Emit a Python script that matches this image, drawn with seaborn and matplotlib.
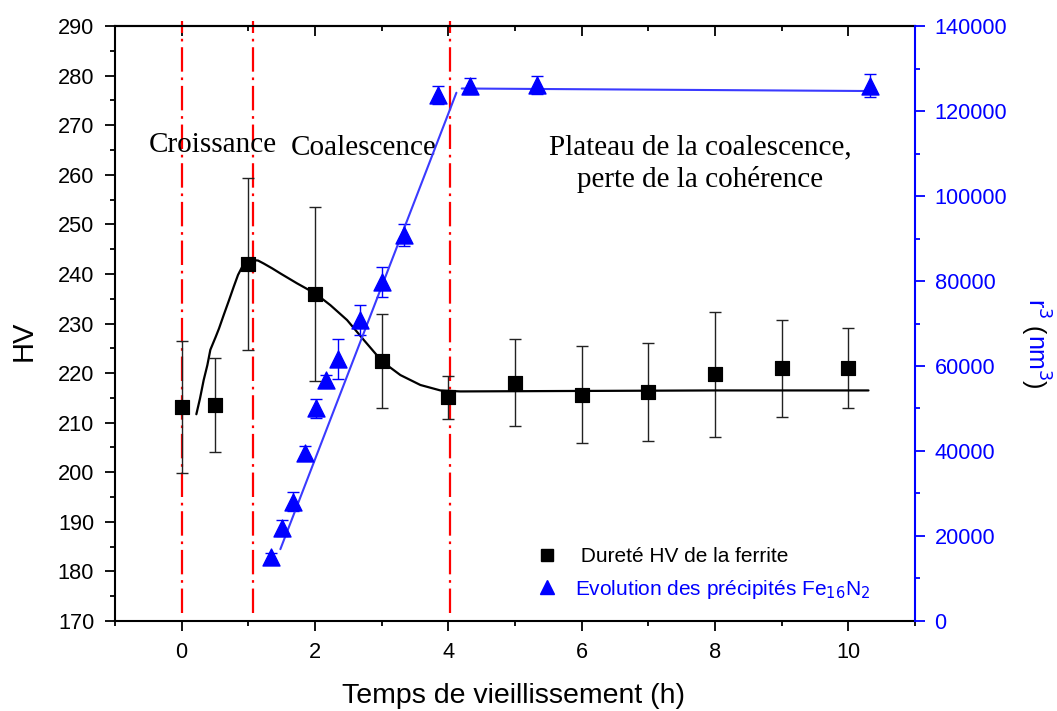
import matplotlib
matplotlib.use("Agg")
import matplotlib.pyplot as plt
from matplotlib.lines import Line2D
from matplotlib.ticker import MultipleLocator
import pandas as pd
import seaborn as sns

# hardness of the ferrite (left axis)
hours_hv = [0, 0.5, 1, 2, 3, 4, 5, 6, 7, 8, 9, 10]
hv = [213.2, 213.5, 242.0, 235.9, 222.4, 215.1, 218.1, 215.6, 216.2, 219.8, 221.0, 221.0]
hv_err = [13.3, 9.5, 17.3, 17.5, 9.5, 4.4, 8.7, 9.8, 9.8, 12.6, 9.8, 8.0]

# fitted hardness curve
fit_hours = [0.22, 0.275, 0.33, 0.385, 0.43, 0.51, 0.56, 0.63, 0.71, 0.78, 0.845, 0.91,
             0.975, 1.06, 1.145, 1.23, 1.36, 1.48, 1.73, 2.01, 2.23, 2.48, 2.73, 3.01,
             3.28, 3.58, 3.88, 4.18, 6.0, 8.0, 10.3]
fit_hv = [211.7, 214.9, 218.6, 221.6, 224.7, 227.3, 229.0, 231.7, 234.7, 237.4, 239.8, 241.5,
          242.3, 242.8, 242.7, 242.1, 241.1, 240.1, 238.1, 236.0, 233.7, 230.7, 226.7, 222.3,
          219.6, 217.6, 216.5, 216.3, 216.4, 216.5, 216.5]

# Fe16N2 precipitates r^3 (right axis)
hours_r3 = [1.34, 1.51, 1.67, 1.85, 2.01, 2.17, 2.34, 2.68, 3.01, 3.33, 3.84, 4.33, 5.33, 10.33]
r3 = [15100, 21900, 28100, 39500, 50000, 56700, 61600, 70800, 79800, 90800,
      123800, 125900, 126100, 125900]
r3_err = [1000, 1900, 2200, 1600, 2200, 1300, 4700, 3500, 3600, 2500, 2100, 1800, 2100, 2700]

# linear fits of r^3: growth then plateau
rise_hours = [1.48, 4.12]
rise_r3 = [16900, 124300]
plateau_hours = [4.2, 10.35]
plateau_r3 = [125300, 124700]

# stage boundaries
stage_hours = [0.0, 1.07, 4.03]

sns.set_style("ticks")
plt.rcParams["font.family"] = ["Liberation Sans", "DejaVu Sans"]
plt.rcParams.update({"text.color": "black", "axes.labelcolor": "black",
                     "xtick.color": "black", "ytick.color": "black"})

df_hv = pd.DataFrame({"t": hours_hv, "hv": hv})
df_fit = pd.DataFrame({"t": fit_hours, "hv": fit_hv})
df_r3 = pd.DataFrame({"t": hours_r3, "r3": r3})

fig = plt.figure(figsize=(10.57, 7.11), dpi=100)
ax = fig.add_axes([0.1088, 0.1266, 0.757, 0.8368])
ax2 = ax.twinx()

BLUE = "#0000ff"

# red dash-dot stage separators
for t in stage_hours:
    ax.plot([t, t], [171.6, 291.0], color="red", lw=1.6,
            linestyle=(0, (11, 2.6, 1.2, 2.6)), clip_on=False, zorder=1)

# hardness
ax.errorbar(hours_hv, hv, yerr=hv_err, fmt="none", ecolor="#222222",
            elinewidth=1.0, capsize=4.5, capthick=1.0, zorder=2)
sns.lineplot(data=df_fit, x="t", y="hv", ax=ax, color="black", lw=1.6,
             sort=False, zorder=3)
sns.scatterplot(data=df_hv, x="t", y="hv", ax=ax, marker="s", s=110,
                color="black", edgecolor="black", zorder=4)

# precipitates
ax2.errorbar(hours_r3, r3, yerr=r3_err, fmt="none", ecolor=BLUE,
             elinewidth=1.0, capsize=4.5, capthick=1.0, zorder=2)
sns.lineplot(x=rise_hours, y=rise_r3, ax=ax2, color="#3a3aff", lw=1.5, zorder=3)
sns.lineplot(x=plateau_hours, y=plateau_r3, ax=ax2, color="#3a3aff", lw=1.5, zorder=3)
sns.scatterplot(data=df_r3, x="t", y="r3", ax=ax2, marker="^", s=150,
                color=BLUE, edgecolor=BLUE, zorder=4)

# axes limits and ticks
ax.set_xlim(-1, 11)
ax.set_ylim(170, 290)
ax2.set_ylim(0, 140000)
ax.xaxis.set_major_locator(MultipleLocator(2))
ax.xaxis.set_minor_locator(MultipleLocator(1))
ax.yaxis.set_major_locator(MultipleLocator(10))
ax.yaxis.set_minor_locator(MultipleLocator(5))
ax2.yaxis.set_major_locator(MultipleLocator(20000))
ax2.yaxis.set_minor_locator(MultipleLocator(10000))

ax.tick_params(axis="both", which="major", direction="out", length=7, width=1.3,
               labelsize=15.7, colors="black", pad=8)
ax.tick_params(axis="both", which="minor", direction="out", length=3.5, width=1.3,
               colors="black")
ax2.tick_params(axis="y", which="major", direction="out", length=7, width=1.3,
                labelsize=15.7, colors=BLUE, pad=7)
ax2.tick_params(axis="y", which="minor", direction="out", length=3.5, width=1.3,
                colors=BLUE)

# inward ticks on top spine
top = ax.secondary_xaxis("top")
top.xaxis.set_major_locator(MultipleLocator(2))
top.xaxis.set_minor_locator(MultipleLocator(1))
top.tick_params(which="major", direction="in", length=7, width=1.3, labeltop=False,
                colors="black")
top.tick_params(which="minor", direction="in", length=3.5, width=1.3, colors="black")

for s in ["left", "bottom", "top"]:
    ax.spines[s].set_linewidth(1.5)
    ax.spines[s].set_color("black")
ax.spines["right"].set_visible(False)
for s in ["left", "bottom", "top"]:
    ax2.spines[s].set_visible(False)
ax2.spines["right"].set_color(BLUE)
ax2.spines["right"].set_linewidth(1.5)
top.spines["top"].set_linewidth(1.5)
top.spines["top"].set_color("black")

ax.set_xlabel("")
ax.set_ylabel("")
ax2.set_ylabel("")
fig.text(514 / 1057, 1 - 703 / 711, "Temps de vieillissement (h)", fontsize=20.5,
         ha="center", va="baseline", color="black")
fig.text(24 / 1057, 1 - 341 / 711, "HV", fontsize=21, rotation=90,
         ha="center", va="center", color="black")

# stage annotations
serif = ["Liberation Serif", "DejaVu Serif"]
ax.text(-0.49, 264.6, "Croissance", family=serif, fontsize=21, va="baseline", ha="left")
ax.text(1.634, 264.0, "Coalescence", family=serif, fontsize=21, va="baseline", ha="left")
ax.text(7.78, 264.06, "Plateau de la coalescence,", family=serif, fontsize=21,
        va="baseline", ha="center")
ax.text(7.78, 257.57, "perte de la cohérence", family=serif, fontsize=21,
        va="baseline", ha="center")

handles = [
    Line2D([], [], marker="s", color="black", linestyle="none", markersize=8),
    Line2D([], [], marker="^", color=BLUE, linestyle="none", markersize=10),
]
labels = [" Dureté HV de la ferrite", "Evolution des précipités Fe$_{16}$N$_2$"]
leg = ax.legend(handles, labels, loc="lower left", bbox_to_anchor=(0.527, 0.034),
                frameon=False, fontsize=15, handlelength=1.0, handletextpad=0.85,
                labelspacing=0.55, borderpad=0, borderaxespad=0)
leg.get_texts()[0].set_color("black")
leg.get_texts()[1].set_color(BLUE)
leg.set_zorder(10)

# right axis label: blue letters, black parentheses, read top to bottom
fig.canvas.draw()
renderer = fig.canvas.get_renderer()
pieces = [("r$^3$", BLUE), (" (", "black"), ("nm$^3$", BLUE), (")", "black")]
ypos = 1 - 298 / 711
for txt, col in pieces:
    t = fig.text(1027 / 1057, ypos, txt, rotation=270, rotation_mode="anchor",
                 ha="left", va="baseline", color=col, fontsize=18)
    bb = t.get_window_extent(renderer)
    ypos -= bb.height / fig.bbox.height

fig.savefig("out.png", dpi=100)
plt.close(fig)
